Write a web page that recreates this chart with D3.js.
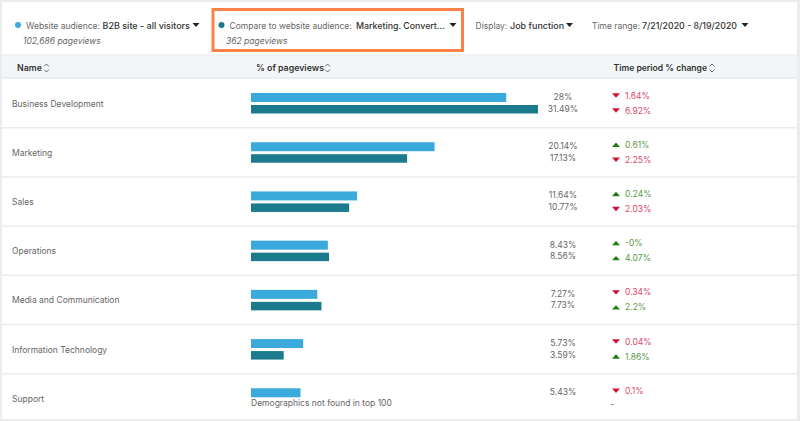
<!DOCTYPE html>
<html lang="en">
<head>
<meta charset="utf-8">
<script src="https://cdn.jsdelivr.net/npm/d3@7"></script>
<style>
  html, body { margin: 0; padding: 0; background: #fff; }
  text { font-family: "Inter", "Liberation Sans", sans-serif; }
</style>
</head>
<body>
<svg id="chart" width="800" height="421" style="display:block"></svg>
<script>
// values
var names = ["Business Development", "Marketing", "Sales", "Operations", "Media and Communication", "Information Technology", "Support"]
var allVisitors = [28, 20.14, 11.64, 8.43, 7.27, 5.73, 5.43]
var compared = [31.49, 17.13, 10.77, 8.56, 7.73, 3.59, null]
var allChange = [-1.64, 0.61, 0.24, 0, -0.34, -0.04, -0.1]
var comparedChange = [-6.92, -2.25, -2.03, 4.07, 2.2, 1.86, null]
var allChangeLabels = ["1.64%", "0.61%", "0.24%", "-0%", "0.34%", "0.04%", "0.1%"]
var comparedChangeLabels = ["6.92%", "2.25%", "2.03%", "4.07%", "2.2%", "1.86%", null]

var blue = "#3aa9db", teal = "#1b7a8c", orange = "#fb8149"
var grey = "#666", dark = "#333"
var red = "#d0103a", green = "#1f7a10", redText = "#d9476a", greenText = "#5b9a4c"

var svg = d3.select("#chart")

var x = d3.scaleLinear().domain([0, 31.49]).range([251, 538])
var y = d3.scaleBand().domain(names).range([78.5, 423]).padding(0)

function label(g, px, py, str, opts) {
  opts = opts || {}
  return g.append("text")
    .attr("x", px).attr("y", py)
    .attr("text-anchor", opts.anchor || "start")
    .style("font-size", (opts.size || 8.5) + "px")
    .style("font-weight", opts.weight || 400)
    .style("font-style", opts.italic ? "italic" : "normal")
    .style("fill", opts.fill || grey)
    .text(str)
}

function triangle(g, cx, cy, up, color, w, h) {
  var p = up
    ? [[cx - w, cy + h], [cx + w, cy + h], [cx, cy - h]]
    : [[cx - w, cy - h], [cx + w, cy - h], [cx, cy + h]]
  g.append("path").attr("d", "M" + p.join("L") + "Z").attr("fill", color)
}

function sortIcon(g, cx, cy) {
  var line = d3.line()
  g.append("path").attr("d", line([[cx - 2.5, cy - 1.5], [cx, cy - 4], [cx + 2.5, cy - 1.5]]))
  g.append("path").attr("d", line([[cx - 2.5, cy + 1.5], [cx, cy + 4], [cx + 2.5, cy + 1.5]]))
  g.selectAll("path").attr("fill", "none").attr("stroke", "#444").attr("stroke-width", 0.8)
}

// page frame
svg.append("rect").attr("width", 800).attr("height", 421).attr("fill", "#ececec")
svg.append("rect").attr("x", 2).attr("y", 2).attr("width", 795).attr("height", 417).attr("fill", "#fff")

// filters
var filters = svg.append("g")
filters.append("circle").attr("cx", 18).attr("cy", 25).attr("r", 3).attr("fill", blue)
label(filters, 26, 28.5, "Website audience:")
label(filters, 102.5, 28.5, "B2B site - all visitors", {size: 9, fill: dark, weight: 500})
triangle(filters, 196, 25, false, "#222", 3.5, 2)
label(filters, 23, 43.5, "102,686 pageviews", {italic: true})

filters.append("rect").attr("x", 213).attr("y", 9.5).attr("width", 249.5).attr("height", 41)
  .attr("fill", "none").attr("stroke", orange).attr("stroke-width", 3)
filters.append("circle").attr("cx", 221.5).attr("cy", 25).attr("r", 3).attr("fill", teal)
label(filters, 229.5, 28.5, "Compare to website audience:")
label(filters, 356, 28.5, "Marketing. Convert...", {size: 8.8, fill: dark, weight: 500})
triangle(filters, 453, 25, false, "#222", 3.5, 2)
label(filters, 226, 43.5, "362 pageviews", {italic: true})

label(filters, 475.5, 28.5, "Display:")
label(filters, 510, 28.5, "Job function", {size: 9, fill: dark, weight: 500})
triangle(filters, 569.5, 25, false, "#222", 3.5, 2)
label(filters, 592, 28.5, "Time range:")
label(filters, 642, 28.5, "7/21/2020 - 8/19/2020", {size: 8.8, fill: dark, weight: 500})
triangle(filters, 745, 25, false, "#222", 3.5, 2)

// table header
var head = svg.append("g")
head.append("rect").attr("x", 2).attr("y", 55).attr("width", 795).attr("height", 23).attr("fill", "#f3f6f8")
head.append("line").attr("x1", 2).attr("x2", 797).attr("y1", 55).attr("y2", 55).attr("stroke", "#e6e9ec")
head.append("line").attr("x1", 2).attr("x2", 797).attr("y1", 78).attr("y2", 78).attr("stroke", "#dcdfe2")
label(head, 17, 71, "Name", {size: 8.8, fill: dark, weight: 600})
sortIcon(head.append("g"), 46.5, 68)
label(head, 256, 71, "% of pageviews", {size: 8.8, fill: dark, weight: 600})
sortIcon(head.append("g"), 327.5, 68)
label(head, 613.5, 71, "Time period % change", {size: 8.6, fill: dark, weight: 600})
sortIcon(head.append("g"), 712, 68)

// rows
var rows = svg.selectAll("g.row").data(names).enter().append("g").attr("class", "row")
  .attr("transform", function(d) { return "translate(0," + y(d) + ")" })

rows.append("line").attr("x1", 2).attr("x2", 797)
  .attr("y1", y.bandwidth()).attr("y2", y.bandwidth())
  .attr("stroke", "#ececec").attr("stroke-width", 1.5)

rows.each(function(d, i) {
  var g = d3.select(this)
  label(g, 12, 28, d)

  g.append("rect").attr("x", x(0)).attr("y", 14.5)
    .attr("width", x(allVisitors[i]) - x(0)).attr("height", 9).attr("fill", blue)
  label(g, 563, 21.5, allVisitors[i] + "%", {anchor: "middle"})

  if (compared[i] !== null) {
    g.append("rect").attr("x", x(0)).attr("y", 26.5)
      .attr("width", x(compared[i]) - x(0)).attr("height", 8.5).attr("fill", teal)
    label(g, 563, 33, compared[i] + "%", {anchor: "middle"})
  } else {
    label(g, 251, 32.5, "Demographics not found in top 100", {size: 8.5})
    label(g, 610.5, 33, "-", {fill: grey})
  }

  var up = allChange[i] >= 0
  triangle(g, 616, 17, up, up ? green : red, 4, 2.2)
  label(g, 625, 20, allChangeLabels[i], {fill: up ? greenText : redText})

  if (comparedChange[i] !== null) {
    var up2 = comparedChange[i] >= 0
    triangle(g, 616, 32, up2, up2 ? green : red, 4, 2.2)
    label(g, 625, 35, comparedChangeLabels[i], {fill: up2 ? greenText : redText})
  }
})
</script>
</body>
</html>
